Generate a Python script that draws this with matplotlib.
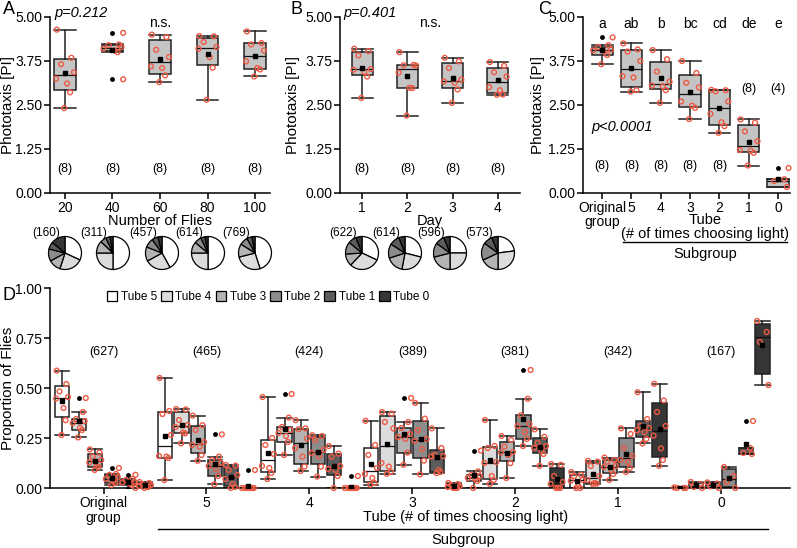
import numpy as np
import matplotlib
matplotlib.use("Agg")
import matplotlib.pyplot as plt
from matplotlib.ticker import FormatStrFormatter
from matplotlib.patches import Patch
from matplotlib.lines import Line2D

plt.rcParams['font.family'] = ['Liberation Sans', 'DejaVu Sans']
plt.rcParams['font.size'] = 10

# ---- panel A: number of flies ----
flies_n = [20, 40, 60, 80, 100]
a_vals = [
    [4.64, 3.84, 3.66, 3.43, 3.25, 3.11, 2.86, 2.41],
    [4.55, 4.22, 4.20, 4.15, 4.10, 4.05, 4.00, 3.23],
    [4.50, 4.43, 4.07, 3.86, 3.60, 3.55, 3.34, 3.15],
    [4.46, 4.45, 4.29, 4.15, 4.10, 3.86, 3.56, 2.65],
    [4.59, 4.26, 4.22, 4.05, 3.74, 3.55, 3.51, 3.31],
]
a_out = [[], [4.55, 3.23], [], [], []]

# ---- panel B: day ----
days = [1, 2, 3, 4]
b_vals = [
    [4.10, 4.03, 3.91, 3.52, 3.50, 3.44, 3.31, 2.70],
    [4.00, 3.64, 3.63, 3.62, 3.42, 2.99, 2.98, 2.20],
    [3.84, 3.74, 3.55, 3.22, 3.17, 3.13, 2.94, 2.56],
    [3.72, 3.61, 3.43, 3.31, 3.01, 2.92, 2.80, 2.79],
]
b_out = [[], [], [], []]

# ---- panel C: subgroups ----
c_labels = ['Original\ngroup', '5', '4', '3', '2', '1', '0']
c_vals = [
    [4.42, 4.20, 4.15, 4.08, 4.05, 4.02, 3.92, 3.66],
    [4.25, 4.08, 4.02, 3.75, 3.32, 3.28, 2.92, 2.88],
    [4.06, 3.80, 3.45, 3.16, 3.05, 3.03, 2.92, 2.56],
    [3.75, 3.41, 3.13, 3.00, 2.60, 2.48, 2.42, 2.10],
    [2.93, 2.92, 2.89, 2.60, 2.25, 2.01, 1.90, 1.71],
    [2.09, 2.00, 1.75, 1.47, 1.22, 1.20, 1.14, 0.78],
    [0.71, 0.39, 0.34, 0.17],
]
c_out = [[4.42], [], [], [], [], [], [0.71]]
c_letters = ['a', 'ab', 'b', 'bc', 'cd', 'de', 'e']
c_n = [8, 8, 8, 8, 8, 8, 4]

# ---- pies (fractions of tube 5 ... tube 0) ----
pie_a_n = [160, 311, 457, 614, 769]
pie_a = [
    [0.32, 0.23, 0.12, 0.12, 0.07, 0.14],
    [0.50, 0.25, 0.12, 0.06, 0.04, 0.03],
    [0.42, 0.25, 0.14, 0.09, 0.06, 0.04],
    [0.50, 0.25, 0.11, 0.07, 0.04, 0.03],
    [0.45, 0.26, 0.13, 0.08, 0.05, 0.03],
]
pie_b_n = [622, 614, 596, 573]
pie_b = [
    [0.32, 0.30, 0.12, 0.12, 0.08, 0.06],
    [0.29, 0.24, 0.17, 0.14, 0.10, 0.06],
    [0.25, 0.25, 0.21, 0.14, 0.09, 0.06],
    [0.23, 0.27, 0.18, 0.17, 0.09, 0.06],
]

# ---- panel D: proportion of flies per tube ----
d_groups = ['Original\ngroup', '5', '4', '3', '2', '1', '0']
d_counts = [627, 465, 424, 389, 381, 342, 167]
tubes = ['Tube 5', 'Tube 4', 'Tube 3', 'Tube 2', 'Tube 1', 'Tube 0']
d_orig = [
    [0.587, 0.52, 0.483, 0.455, 0.447, 0.40, 0.339, 0.265],
    [0.45, 0.38, 0.345, 0.335, 0.325, 0.30, 0.29, 0.253],
    [0.193, 0.177, 0.157, 0.14, 0.128, 0.11, 0.105, 0.09],
    [0.10, 0.07, 0.066, 0.055, 0.045, 0.035, 0.025, 0.015],
    [0.066, 0.046, 0.04, 0.032, 0.028, 0.022, 0.015, 0.0],
    [0.03, 0.025, 0.02, 0.015, 0.01, 0.008, 0.005, 0.0],
]
d_orig_out = [[], [0.45], [], [0.10], [0.066, 0.0], []]
d_sub5 = [
    [0.55, 0.385, 0.37, 0.265, 0.16, 0.157, 0.15, 0.04],
    [0.395, 0.393, 0.34, 0.315, 0.305, 0.278, 0.273, 0.223],
    [0.362, 0.314, 0.29, 0.23, 0.215, 0.207, 0.165, 0.136],
    [0.268, 0.157, 0.14, 0.125, 0.11, 0.095, 0.06, 0.018],
    [0.115, 0.112, 0.09, 0.065, 0.045, 0.02, 0.005, 0.0],
    [0.09, 0.0, 0.0, 0.0, 0.0, 0.0, 0.0, 0.0],
]
d_sub5_out = [[], [], [], [0.268], [], [0.09]]
d_sub4 = [
    [0.455, 0.25, 0.215, 0.17, 0.11, 0.10, 0.075, 0.045],
    [0.47, 0.352, 0.305, 0.29, 0.275, 0.26, 0.23, 0.165],
    [0.339, 0.298, 0.294, 0.248, 0.2, 0.157, 0.107, 0.085],
    [0.264, 0.26, 0.24, 0.19, 0.175, 0.16, 0.107, 0.057],
    [0.21, 0.172, 0.157, 0.11, 0.095, 0.09, 0.06, 0.0],
    [0.06, 0.0, 0.0, 0.0, 0.0, 0.0, 0.0, 0.0],
]
d_sub4_out = [[], [0.47], [], [], [], [0.06]]
d_sub3 = [
    [0.336, 0.215, 0.165, 0.1, 0.07, 0.05, 0.025, 0.017],
    [0.38, 0.372, 0.33, 0.298, 0.125, 0.107, 0.08, 0.071],
    [0.45, 0.33, 0.30, 0.27, 0.255, 0.245, 0.177, 0.116],
    [0.425, 0.347, 0.29, 0.245, 0.235, 0.195, 0.137, 0.068],
    [0.298, 0.2, 0.165, 0.16, 0.158, 0.09, 0.08, 0.074],
    [0.025, 0.02, 0.015, 0.01, 0.005, 0.0, 0.0, 0.0],
]
d_sub3_out = [[], [], [0.45], [], [], []]
d_sub2 = [
    [0.187, 0.083, 0.065, 0.06, 0.05, 0.045, 0.035, 0.0],
    [0.34, 0.21, 0.2, 0.13, 0.125, 0.06, 0.04, 0.021],
    [0.26, 0.24, 0.207, 0.18, 0.178, 0.165, 0.124, 0.05],
    [0.59, 0.446, 0.364, 0.32, 0.31, 0.28, 0.245, 0.21],
    [0.293, 0.256, 0.225, 0.21, 0.2, 0.185, 0.17, 0.111],
    [0.12, 0.116, 0.06, 0.03, 0.02, 0.0, 0.0, 0.0],
]
d_sub2_out = [[0.187], [], [], [0.59], [], []]
d_sub1 = [
    [0.08, 0.066, 0.06, 0.04, 0.036, 0.01, 0.0, 0.0],
    [0.136, 0.132, 0.11, 0.06, 0.04, 0.025, 0.022, 0.02],
    [0.152, 0.14, 0.132, 0.11, 0.105, 0.09, 0.07, 0.04],
    [0.298, 0.27, 0.2, 0.16, 0.14, 0.13, 0.1, 0.08],
    [0.479, 0.345, 0.31, 0.3, 0.288, 0.28, 0.245, 0.223],
    [0.521, 0.438, 0.38, 0.31, 0.262, 0.198, 0.14, 0.111],
]
d_sub1_out = [[], [], [], [], [], []]
d_sub0 = [
    [0.003, 0.0, 0.0, 0.0],
    [0.03, 0.02, 0.005, 0.0],
    [0.028, 0.022, 0.008, 0.0],
    [0.105, 0.06, 0.03, 0.0],
    [0.335, 0.2, 0.175, 0.17],
    [0.835, 0.78, 0.73, 0.515],
]
d_sub0_out = [[], [], [], [], [0.335], []]

d_all = [d_orig, d_sub5, d_sub4, d_sub3, d_sub2, d_sub1, d_sub0]
d_all_out = [d_orig_out, d_sub5_out, d_sub4_out, d_sub3_out, d_sub2_out,
             d_sub1_out, d_sub0_out]

tube_colors = ['white', '#dcdcdc', '#b4b4b4', '#8c8c8c', '#5c5c5c', '#363636']
box_gray = '#c4c4c4'
red = '#ee5a44'
jit = [-0.38, 0.3, -0.18, 0.42, -0.42, 0.1, 0.24, -0.04]

W, H = 797, 548
fig = plt.figure(figsize=(W / 100, H / 100), dpi=100)


def px_axes(x0, y0, x1, y1):
    return fig.add_axes([x0 / W, 1 - y1 / H, (x1 - x0) / W, (y1 - y0) / H])


def ftext(x, y, s, **kw):
    fig.text(x / W, 1 - y / H, s, **kw)


def fline(x0, x1, y):
    fig.add_artist(Line2D([x0 / W, x1 / W], [1 - y / H, 1 - y / H],
                          transform=fig.transFigure, color='k', lw=1))


def draw_boxes(ax, vals, outs, pos, width, colors):
    stats = []
    for v, o in zip(vals, outs):
        inl = [x for x in v if x not in o]
        q1, med, q3 = np.percentile(inl, [25, 50, 75], method='weibull')
        stats.append(dict(med=med, q1=q1, q3=q3, whislo=min(inl),
                          whishi=max(inl), mean=np.mean(v), fliers=o))
    bp = ax.bxp(stats, positions=pos, widths=width, capwidths=width,
                patch_artist=True, showmeans=True,
                boxprops=dict(edgecolor='#222222', linewidth=1.1),
                whiskerprops=dict(color='#222222', linewidth=1.1),
                capprops=dict(color='#222222', linewidth=1.1),
                medianprops=dict(color='#111111', linewidth=0.9),
                meanprops=dict(marker='s', markerfacecolor='k',
                               markeredgecolor='k', markersize=3.5, zorder=6),
                flierprops=dict(marker='o', markerfacecolor='k',
                                markeredgecolor='none', markersize=3.5))
    for patch, c in zip(bp['boxes'], colors):
        patch.set_facecolor(c)
    for p, v, o in zip(pos, vals, outs):
        xs = [p + 0.5 * width if x in o else p + jit[i] * width
              for i, x in enumerate(v)]
        ax.scatter(xs, v, s=12, facecolors='none', edgecolors=red,
                   linewidths=1.0, zorder=5, clip_on=False)


def style(ax, ymax, step, ylab_x):
    for s in ['top', 'right']:
        ax.spines[s].set_visible(False)
    for s in ['left', 'bottom']:
        ax.spines[s].set_linewidth(1.1)
    ax.tick_params(width=1.1, length=4, labelsize=10, pad=1.5)
    ax.set_ylim(0, ymax)
    ax.set_yticks(np.arange(0, ymax + 1e-9, step))
    ax.yaxis.set_major_formatter(FormatStrFormatter('%.2f'))
    ax.yaxis.set_label_coords(ylab_x, 0.5)


# Panel A
axA = px_axes(50, 17, 270, 193)
draw_boxes(axA, a_vals, a_out, flies_n, 9.0, [box_gray] * 5)
axA.set_ylabel('Phototaxis [PI]', fontsize=11)
style(axA, 5, 1.25, (15 - 50) / 220)
axA.set_xlim(13.7, 106.3)
axA.set_xticks(flies_n)
axA.set_xticklabels([str(n) for n in flies_n])
axA.set_xlabel('Number of Flies', fontsize=10.5, labelpad=-0.5)
for x in flies_n:
    axA.text(x, 0.69, '(8)', ha='center', va='center', fontsize=9)
axA.text(0.02, 1.025, 'p=0.212', transform=axA.transAxes, style='italic',
         fontsize=10.5, va='center')
axA.text(60, 4.82, 'n.s.', ha='center', va='center', fontsize=10)

# Panel B
axB = px_axes(340, 17, 520, 193)
draw_boxes(axB, b_vals, b_out, days, 0.46, [box_gray] * 4)
axB.set_ylabel('Phototaxis [PI]', fontsize=11)
style(axB, 5, 1.25, (300 - 340) / 180)
axB.set_xlim(0.51, 4.49)
axB.set_xticks(days)
axB.set_xlabel('Day', fontsize=10.5, labelpad=-0.5)
for x in days:
    axB.text(x, 0.69, '(8)', ha='center', va='center', fontsize=9)
axB.text(0.02, 1.025, 'p=0.401', transform=axB.transAxes, style='italic',
         fontsize=10.5, va='center')
axB.text(2.5, 4.82, 'n.s.', ha='center', va='center', fontsize=10)

# Panel C
axC = px_axes(583, 17, 790, 193)
c_pos = list(range(len(c_labels)))
draw_boxes(axC, c_vals, c_out, c_pos, 0.72, [box_gray] * 7)
axC.set_ylabel('Phototaxis [PI]', fontsize=11)
style(axC, 5, 1.25, (545 - 583) / 207)
axC.set_xlim(-0.65, 6.41)
axC.set_xticks(c_pos)
axC.set_xticklabels(c_labels, linespacing=1.0)
for x, lt, n in zip(c_pos, c_letters, c_n):
    axC.text(x, 4.81, lt, ha='center', va='center', fontsize=10)
    yy = 0.78 if x < 5 else 2.95
    axC.text(x, yy, '(%d)' % n, ha='center', va='center', fontsize=9)
axC.text(-0.35, 1.87, 'p<0.0001', style='italic', fontsize=10.5, va='center')
ftext(705, 220, 'Tube', ha='center', va='center', fontsize=10.5)
ftext(705, 234, '(# of times choosing light)', ha='center', va='center',
      fontsize=10.5)
fline(623, 787, 242)
ftext(705, 254, 'Subgroup', ha='center', va='center', fontsize=10.5)

# Pies under A and B
a_pie_x = [65, 113, 162, 208, 255]
b_pie_x = [362, 405, 450, 498]
r = 17
for cx_list, fr_list, n_list in [(a_pie_x, pie_a, pie_a_n),
                                 (b_pie_x, pie_b, pie_b_n)]:
    for cx, fr, n in zip(cx_list, fr_list, n_list):
        pa = px_axes(cx - r, 253 - r, cx + r, 253 + r)
        pa.pie(fr, colors=tube_colors, startangle=90, counterclock=False,
               wedgeprops=dict(edgecolor='k', linewidth=0.9, clip_on=False))
        pa.set_xlim(-1.03, 1.03)
        pa.set_ylim(-1.03, 1.03)
        pa.set_aspect('equal')
        ftext(cx - 19, 233, '(%d)' % n, ha='center', va='center', fontsize=8.5)

# Panel D
axD = px_axes(50, 288, 790, 488)
bw = 0.138
step = 0.161
for g, (vals, outs) in enumerate(zip(d_all, d_all_out)):
    pos = [g + (k - 2.5) * step for k in range(6)]
    draw_boxes(axD, vals, outs, pos, bw, tube_colors)
    axD.text(g, 0.68, '(%d)' % d_counts[g], ha='center', va='center',
             fontsize=9)
axD.set_ylabel('Proportion of Flies', fontsize=11)
style(axD, 1.0, 0.25, (15 - 50) / 740)
axD.set_xlim(-0.52, 6.67)
axD.set_xticks(range(len(d_groups)))
axD.set_xticklabels(d_groups, linespacing=1.1)
handles = [Patch(facecolor=c, edgecolor='k', linewidth=0.9) for c in tube_colors]
axD.legend(handles, tubes, ncol=6, frameon=False, loc='center',
           bbox_to_anchor=((268 - 50) / 740, 0.955), fontsize=8.5,
           handlelength=0.9, handleheight=0.9, handletextpad=0.3,
           columnspacing=0.35)
ftext(466, 517, 'Tube (# of times choosing light)', ha='center', va='center',
      fontsize=10.5)
fline(158, 768, 529)
ftext(463, 540, 'Subgroup', ha='center', va='center', fontsize=10.5)

# Panel letters
for lab, x, y in [('A', 9, 10), ('B', 297, 10), ('C', 545, 10), ('D', 9, 296)]:
    ftext(x, y, lab, ha='center', va='center', fontsize=13)

fig.savefig('out.png', dpi=100)
